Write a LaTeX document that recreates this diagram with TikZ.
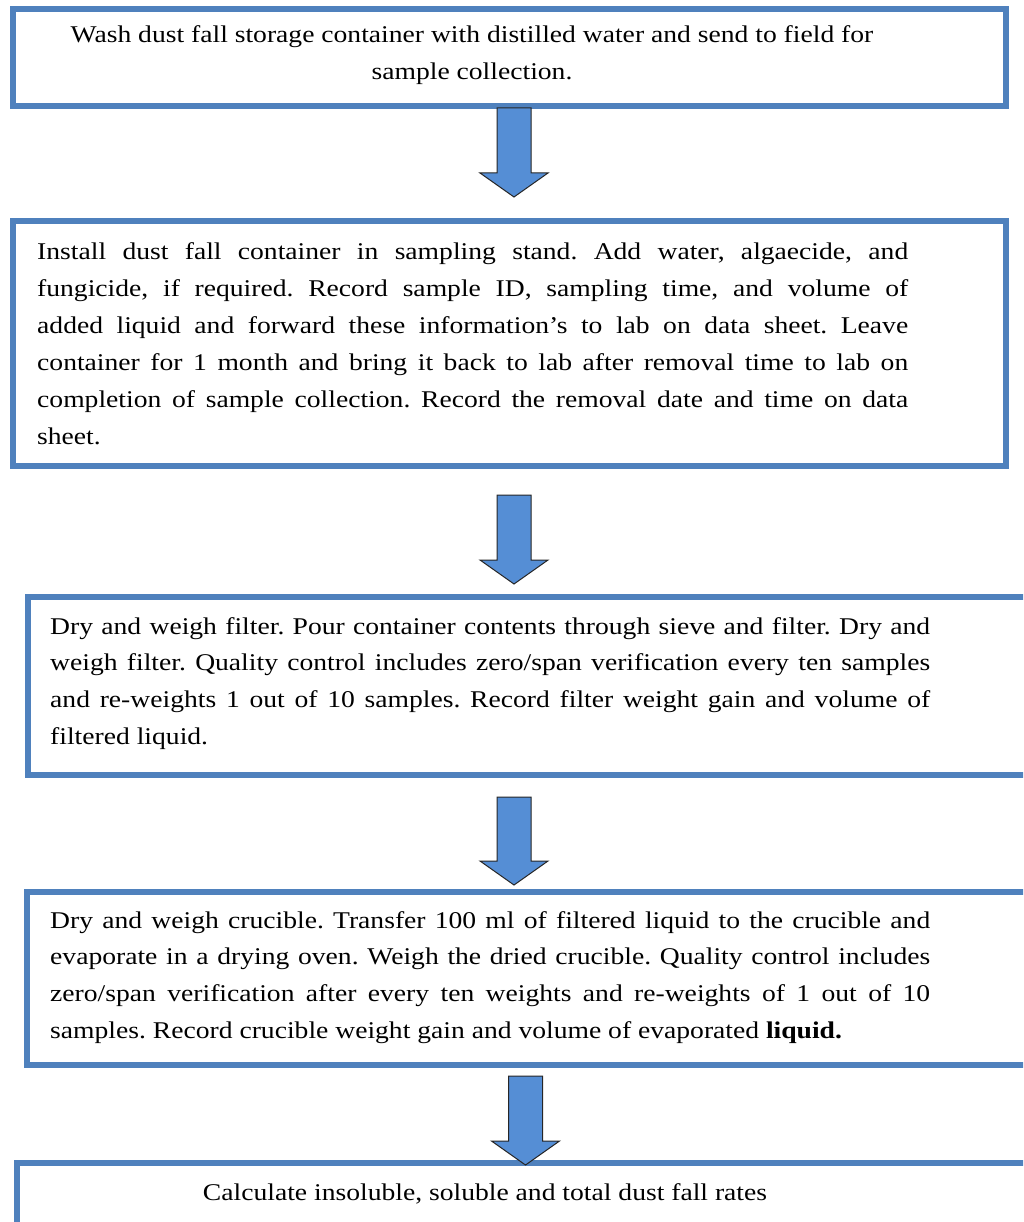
\documentclass[tikz,border=0pt]{standalone}
\usepackage{fontspec}
\setmainfont[FakeStretch=1.15]{Liberation Serif}
\usetikzlibrary{calc}
\definecolor{boxblue}{RGB}{79,129,189}
\definecolor{arrowblue}{RGB}{85,142,213}
\newcommand\blockarrow[2]{%
  \draw[blk] ($(#1)+(-17,0)$) -- ($(#1)+(17,0)$) -- ($(#1)+(17,{#2-24})$)
    -- ($(#1)+(34,{#2-24})$) -- ($(#1)+(0,#2)$) -- ($(#1)+(-34,{#2-24})$)
    -- ($(#1)+(-17,{#2-24})$) -- cycle;}
\begin{document}
\begin{tikzpicture}[x=1pt,y=-1pt,
  box/.style={draw=boxblue, line width=6pt, rectangle, inner sep=0pt, fill=white},
  txt/.style={inner sep=0pt, font=\fontsize{24}{36.8}\selectfont\frenchspacing},
  just/.style={txt, anchor=base west, align=justify},
  blk/.style={draw=black!85, line width=1pt, fill=arrowblue, line join=miter}]
\useasboundingbox (0,0) rectangle (1023,1222);
\clip (0,0) rectangle (1023,1222);
% boxes
\node[box, minimum width=993, minimum height=96.5] (b1) at (509.5,57.75) {};
\node[box, minimum width=993, minimum height=245] (b2) at (509.5,343.5) {};
\node[box, minimum width=1022, minimum height=178] (b3) at (539,686) {};
\node[box, minimum width=1023, minimum height=173] (b4) at (538.5,978.5) {};
\node[box, minimum width=1033, minimum height=87] (b5) at (533.5,1206.5) {};
% texts
\node[txt, anchor=base, align=center] (t1) at (472,79.5)
  {Wash dust fall storage container with distilled water and send to field for\\ sample collection.};
\node[just, text width=871] (t2) at (37,260) {\tolerance=10000
Install dust fall container in sampling stand. Add water, algaecide, and\linebreak
fungicide, if required. Record sample ID, sampling time, and volume of\linebreak
added liquid and forward these information’s to lab on data sheet. Leave\linebreak
container for 1 month and bring it back to lab after removal time to lab on\linebreak
completion of sample collection. Record the removal date and time on data\linebreak
sheet.};
\node[just, text width=880] (t3) at (50,634) {\tolerance=10000
Dry and weigh filter. Pour container contents through sieve and filter. Dry and\linebreak
weigh filter. Quality control includes zero/span verification every ten samples\linebreak
and re-weights 1 out of 10 samples. Record filter weight gain and volume of\linebreak
filtered liquid.};
\node[just, text width=880] (t4) at (50,928) {\tolerance=10000
Dry and weigh crucible. Transfer 100 ml of filtered liquid to the crucible and\linebreak
evaporate in a drying oven. Weigh the dried crucible. Quality control includes\linebreak
zero/span verification after every ten weights and re-weights of 1 out of 10\linebreak
samples. Record crucible weight gain and volume of evaporated \textbf{liquid.}};
\node[txt, anchor=base] (t5) at (485,1200) {Calculate insoluble, soluble and total dust fall rates};
% arrows
\coordinate (a1) at (514,108);
\coordinate (a2) at (514,495);
\coordinate (a3) at (514,797);
\coordinate (a4) at (525.5,1076);
\blockarrow{a1}{89}
\blockarrow{a2}{89}
\blockarrow{a3}{88}
\blockarrow{a4}{89}
\end{tikzpicture}
\end{document}
